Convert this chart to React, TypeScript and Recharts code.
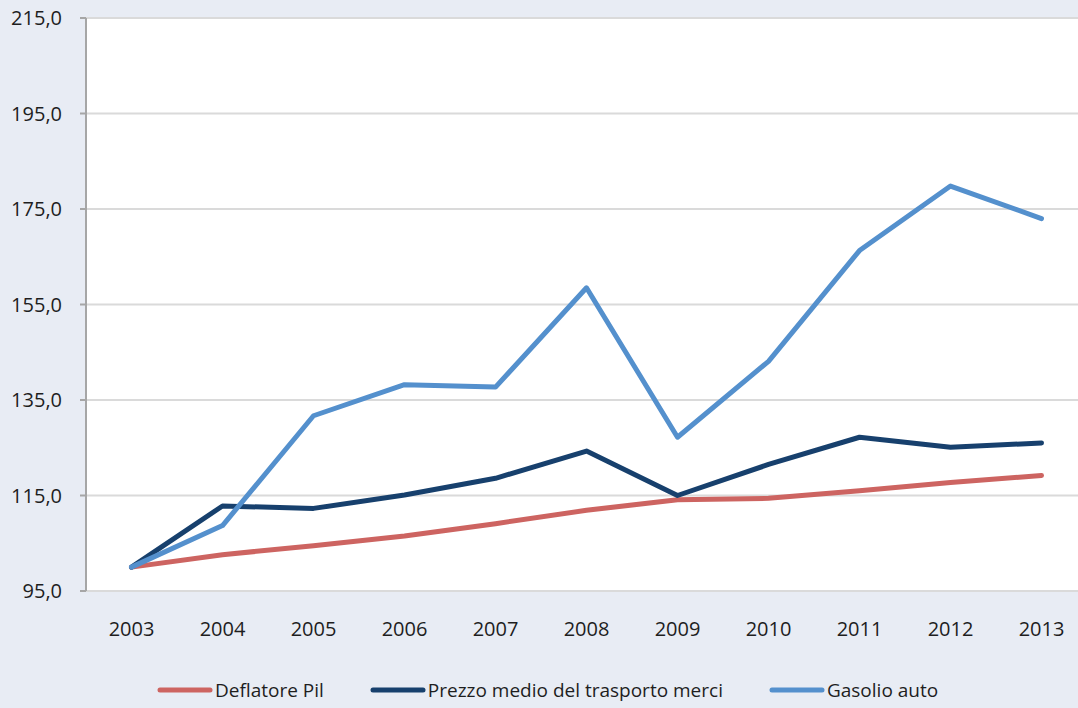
import React from 'react';
import { LineChart, Line, XAxis, YAxis, CartesianGrid, Legend } from 'recharts';

const years = ['2003', '2004', '2005', '2006', '2007', '2008', '2009', '2010', '2011', '2012', '2013'];
const deflatorePil = [100.0, 102.6, 104.5, 106.5, 109.1, 111.9, 114.1, 114.4, 116.0, 117.7, 119.2];
const prezzoTrasporto = [100.0, 112.8, 112.3, 115.1, 118.6, 124.3, 115.0, 121.5, 127.2, 125.1, 126.0];
const gasolioAuto = [100.0, 108.7, 131.7, 138.2, 137.7, 158.5, 127.2, 143.1, 166.3, 179.8, 173.0];
const seriesNames = ['Deflatore Pil', 'Prezzo medio del trasporto merci', 'Gasolio auto'];
const yTicks = [95, 115, 135, 155, 175, 195, 215];
const labelTicks = years.map((_, i) => i);
const boundTicks = [...years.map((_, i) => i - 0.5), years.length - 0.5];

const data = years.map((year, i) => ({
  i,
  year,
  deflatore: deflatorePil[i],
  prezzo: prezzoTrasporto[i],
  gasolio: gasolioAuto[i],
}));

const FONT = '"Open Sans", sans-serif';
const AXIS = '#a6a6a6';
const TEXT = '#1e1e1e';

const LegendContent = (props: any) => {
  const payload = [...(props.payload || [])].sort(
    (a: any, b: any) => seriesNames.indexOf(a.value) - seriesNames.indexOf(b.value)
  );
  return (
    <div style={{ display: 'flex', alignItems: 'center', height: 36, paddingLeft: 157, fontFamily: FONT, fontSize: 19, color: TEXT }}>
      {payload.map((p: any) => (
        <div key={p.value} style={{ display: 'flex', alignItems: 'center', marginRight: 46 }}>
          <svg width={56} height={8} style={{ marginRight: 2 }}>
            <line x1={3} y1={4} x2={53} y2={4} stroke={p.color} strokeWidth={5} strokeLinecap="round" />
          </svg>
          <span style={{ whiteSpace: 'nowrap' }}>{p.value}</span>
        </div>
      ))}
    </div>
  );
};

export default function App() {
  return (
    <div style={{ position: 'absolute', left: 0, top: 0, width: 1078, height: 708, overflow: 'hidden', background: '#e8ecf4' }}>
      <LineChart width={1090} height={708} data={data} margin={{ top: 18, right: 3, bottom: 0, left: 0 }}>
        <CartesianGrid xAxisId="bounds" vertical={false} stroke="#dadada" strokeWidth={2} fill="#ffffff" fillOpacity={1} />
        <XAxis
          xAxisId="bounds"
          type="number"
          dataKey="i"
          domain={[-0.5, years.length - 0.5]}
          ticks={boundTicks}
          tickFormatter={() => ''}
          height={0}
          tickSize={6}
          axisLine={{ stroke: AXIS, strokeWidth: 2 }}
          tickLine={{ stroke: AXIS, strokeWidth: 2 }}
          interval={0}
        />
        <XAxis
          xAxisId="labels"
          type="number"
          dataKey="i"
          domain={[-0.5, years.length - 0.5]}
          ticks={labelTicks}
          tickFormatter={(v: number) => years[v]}
          height={81}
          tickSize={0}
          tickMargin={31}
          axisLine={false}
          tickLine={false}
          interval={0}
          tick={{ fill: TEXT, fontSize: 20, fontFamily: FONT }}
        />
        <YAxis
          domain={[95, 215]}
          ticks={yTicks}
          interval={0}
          width={86}
          tickSize={6}
          tickMargin={18}
          tickFormatter={(v: number) => v.toFixed(1).replace('.', ',')}
          axisLine={{ stroke: AXIS, strokeWidth: 2 }}
          tickLine={{ stroke: AXIS, strokeWidth: 2 }}
          tick={{ fill: TEXT, fontSize: 20, fontFamily: FONT }}
        />
        <Legend verticalAlign="bottom" itemSorter={null as any} content={<LegendContent />} wrapperStyle={{ left: 0, width: 1078, bottom: 0, height: 36 }} />
        <Line xAxisId="bounds" type="linear" dataKey="deflatore" name={seriesNames[0]} stroke="#cd6461" strokeWidth={5} dot={false} activeDot={false} strokeLinecap="round" strokeLinejoin="round" isAnimationActive={false} />
        <Line xAxisId="bounds" type="linear" dataKey="prezzo" name={seriesNames[1]} stroke="#17406d" strokeWidth={5} dot={false} activeDot={false} strokeLinecap="round" strokeLinejoin="round" isAnimationActive={false} />
        <Line xAxisId="bounds" type="linear" dataKey="gasolio" name={seriesNames[2]} stroke="#5490cd" strokeWidth={5} dot={false} activeDot={false} strokeLinecap="round" strokeLinejoin="round" isAnimationActive={false} />
      </LineChart>
    </div>
  );
}
